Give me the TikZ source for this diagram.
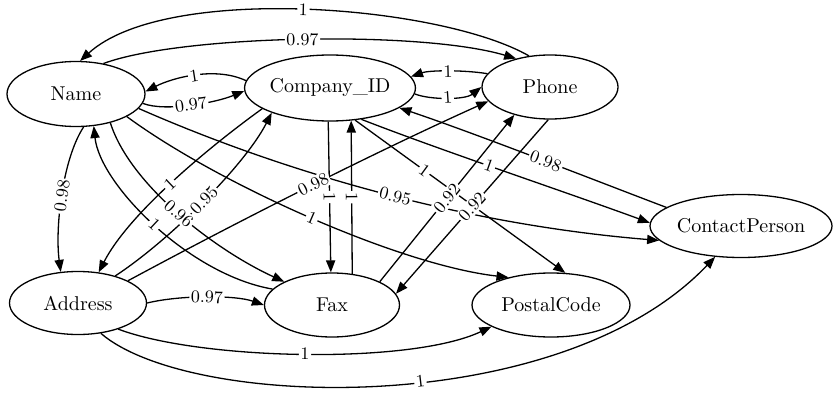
\documentclass[tikz,border=0pt]{standalone}
\usetikzlibrary{arrows.meta,shapes.geometric}
\pgfdeclarelayer{fg}
\pgfsetlayers{main,fg}
\newcommand\Edge[3]{\draw[edgeline] #1;\begin{pgfonlayer}{fg}\path #1 node[lbl,#2]{#3};\end{pgfonlayer}}
\begin{document}
\begin{tikzpicture}[x=0.5pt,y=-0.5pt,
  vert/.style={draw,ellipse,line width=0.65pt,inner sep=0pt,font=\fontsize{10}{12}\selectfont},
  edgeline/.style={line width=0.65pt,-{Triangle[length=6pt,width=4.6pt]}},
  lbl/.style={sloped,fill=white,inner sep=0.8pt,font=\fontsize{8.8}{10}\selectfont}]
\useasboundingbox (0,0) rectangle (833,395);
\node[vert,minimum width=69pt,minimum height=32.5pt] (N) at (76,94) {Name};
\node[vert,minimum width=85pt,minimum height=33pt] (C) at (330,88) {Company\_ID};
\node[vert,minimum width=68pt,minimum height=32pt] (P) at (550,87) {Phone};
\node[vert,minimum width=91pt,minimum height=31.5pt] (CP) at (741,226) {ContactPerson};
\node[vert,minimum width=68.5pt,minimum height=31.5pt] (A) at (78,303) {Address};
\node[vert,minimum width=67.5pt,minimum height=32pt] (F) at (332,305) {Fax};
\node[vert,minimum width=79pt,minimum height=32pt] (PC) at (551,305) {PostalCode};
% edges
\Edge{(P.124) .. controls (440,5) and (166,-17) .. (N.83)}{pos=.5}{1}
\Edge{(N.48) .. controls (180,35) and (420,30) .. (P.140)}{pos=.5}{0.97}
\Edge{(C.175) .. controls (215,66) and (172,78) .. (N.2)}{pos=.5}{1}
\Edge{(N.-8) .. controls (165,112) and (215,103) .. (C.182)}{pos=.5}{0.97}
\Edge{(P.168) .. controls (465,70) and (430,70) .. (C.8)}{pos=.5}{1}
\Edge{(C.-4) .. controls (430,100) and (465,100) .. (P.180)}{pos=.5}{1}
\Edge{(N.-77) .. controls (62,160) and (55,230) .. (A.119)}{pos=.5}{0.98}
\Edge{(C.-163) .. controls (205,150) and (128,215) .. (A.56)}{pos=.5}{1}
\Edge{(F.165) .. controls (190,275) and (100,185) .. (N.-61)}{pos=.5}{1}
\Edge{(N.-40) .. controls (130,185) and (215,250) .. (F.154)}{pos=.5}{0.96}
\Edge{(A.36) .. controls (170,240) and (245,165) .. (C.-157)}{pos=.5}{0.95}
\Edge{(A.24) .. controls (250,215) and (380,150) .. (P.193)}{pos=.5}{0.98}
\Edge{(N.-13) .. controls (290,175) and (470,225) .. (CP.190)}{pos=.52}{0.95}
\Edge{(N.-24) .. controls (220,185) and (400,265) .. (PC.147)}{pos=.5}{1}
\Edge{(C.-45) .. controls (440,150) and (560,190) .. (CP.178)}{pos=.46}{1}
\Edge{(CP.166) .. controls (620,190) and (480,135) .. (C.-16)}{pos=.5}{0.98}
\Edge{(C.-52) -- (PC.66)}{pos=.33}{1}
\Edge{(F.26) -- (P.218)}{pos=.5}{0.92}
\Edge{(P.-93) -- (F.10)}{pos=.5}{0.92}
\Edge{(C.-93) -- (F.92)}{pos=.5}{1}
\Edge{(F.57) -- (C.-57)}{pos=.5}{1}
\Edge{(A.0) .. controls (180,295) and (235,295) .. (F.180)}{pos=.5}{0.97}
\Edge{(A.-33) .. controls (200,360) and (410,365) .. (PC.200)}{pos=.5}{1}
\Edge{(A.-53) .. controls (190,410) and (560,420) .. (CP.230)}{pos=.55}{1}
\end{tikzpicture}
\end{document}
